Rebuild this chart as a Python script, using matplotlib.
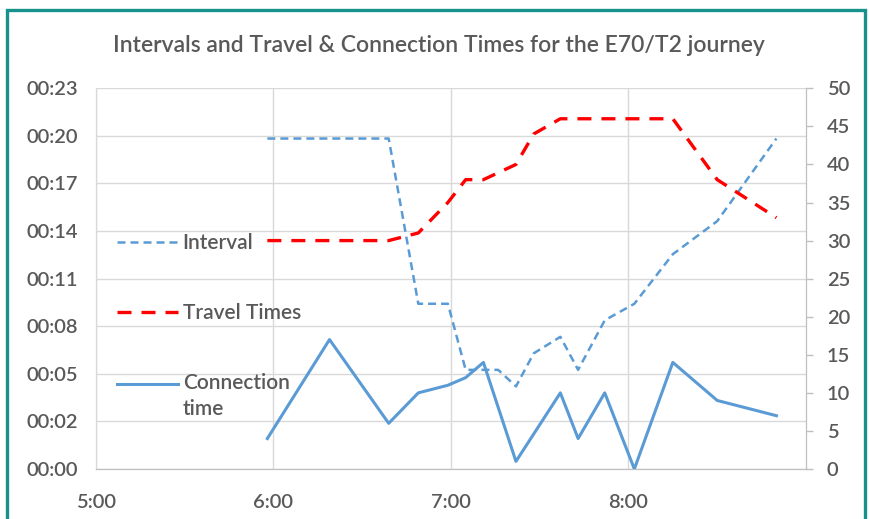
import matplotlib.pyplot as plt
import numpy as np
from matplotlib.patches import Rectangle
from matplotlib.ticker import FuncFormatter
from matplotlib.transforms import Affine2D

plt.rcParams["font.family"] = ["Lato", "DejaVu Sans"]
plt.rcParams["font.weight"] = "semibold"

# departure times and minutes for each series
interval_times = ["5:58", "6:19", "6:39", "6:49", "6:59", "7:05", "7:11", "7:16", "7:22",
                  "7:28", "7:37", "7:43", "7:52", "8:02", "8:15", "8:30", "8:50"]
interval_mins = [20, 20, 20, 10, 10, 6, 6, 6, 5, 7, 8, 6, 9, 10, 13, 15, 20]

travel_times = ["5:58", "6:19", "6:39", "6:49", "6:59", "7:05", "7:11", "7:22", "7:28",
                "7:37", "8:02", "8:15", "8:30", "8:50"]
travel_mins = [30, 30, 30, 31, 35, 38, 38, 40, 44, 46, 46, 46, 38, 33]

connection_times = ["5:58", "6:19", "6:39", "6:49", "6:59", "7:05", "7:11", "7:22", "7:37",
                    "7:43", "7:52", "8:02", "8:15", "8:30", "8:50"]
connection_mins = [4, 17, 6, 10, 11, 12, 14, 1, 10, 4, 10, 0, 14, 9, 7]

hour_labels = ["5:00", "6:00", "7:00", "8:00"]

BLUE = "#5b9bd5"
RED = "#ff0000"
TEXT = "#595959"
GRID = "#d9d9d9"


def to_hours(times):
    out = []
    for t in times:
        h, m = t.split(":")
        out.append(int(h) + int(m) / 60)
    return out


fig = plt.figure(figsize=(8.69, 5.19), dpi=100)
ax = fig.add_axes([95.7 / 869, 50 / 519, 710.3 / 869, 380.7 / 519])
ax2 = ax.twinx()

# interval on the time-of-day axis (left), the others in minutes (right)
l_int, = ax.plot(to_hours(interval_times), interval_mins, color=BLUE, lw=1.8,
                 dashes=(3.2, 2.0), label="Interval", zorder=3)
l_trv, = ax2.plot(to_hours(travel_times), travel_mins, color=RED, lw=2.4,
                  dashes=(4.2, 3.0), label="Travel Times", zorder=3)
l_con, = ax2.plot(to_hours(connection_times), connection_mins, color=BLUE, lw=2.2,
                  label="Connection\ntime", zorder=3)

ax.set_xlim(5, 9)
ax.set_xticks([5, 6, 7, 8])
ax.set_xticklabels(hour_labels)

# left axis ticks every 0.002 day (2.88 min), shown as hh:mm
step = 2.88
ax.set_ylim(0, 8 * step)
ax.set_yticks(np.arange(9) * step)
ax.yaxis.set_major_formatter(FuncFormatter(lambda v, p: f"00:{int(v + 1e-6):02d}"))

ax2.set_ylim(0, 50)
ax2.set_yticks(range(0, 51, 5))

ax.grid(True, color=GRID, lw=1, zorder=0)
ax.set_axisbelow(True)

for a in (ax, ax2):
    a.spines["top"].set_visible(False)
    a.spines["left"].set_color(GRID)
    a.spines["bottom"].set_color("#bfbfbf")
    a.spines["right"].set_color("#bfbfbf")

ax.tick_params(axis="y", length=0, pad=13, labelsize=14.5, labelcolor=TEXT)
ax.tick_params(axis="x", length=0, pad=18, labelsize=14.5, labelcolor=TEXT)
ax2.tick_params(axis="y", length=5, width=1, color="#bfbfbf", pad=10,
                labelsize=14.5, labelcolor=TEXT)

fig.text(439 / 869, 1 - 46 / 519,
         "Intervals and Travel & Connection Times for the E70/T2 journey",
         ha="center", va="center", fontsize=16.5, color=TEXT)

leg = ax.legend(
    [l_int, l_trv, l_con],
    [l_int.get_label(), l_trv.get_label(), l_con.get_label()],
    loc="upper left",
    bbox_to_anchor=(117 / 869, 1 - 233 / 519),
    bbox_transform=fig.transFigure,
    frameon=False,
    borderpad=0,
    borderaxespad=0,
    fontsize=15,
    handlelength=2.95,
    handletextpad=0.2,
    labelspacing=2.4,
    labelcolor=TEXT,
)
leg.get_texts()[2].set_linespacing(1.4)
# put the connection handle level with the first line of its label
con_handle = leg.legend_handles[2]
con_handle.set_transform(con_handle.get_transform() + Affine2D().translate(0, 13))
leg.set_zorder(5)

# teal frame around the chart
fig.add_artist(Rectangle((7 / 869, -0.05), 858 / 869, 1.05 - 10 / 519,
                         transform=fig.transFigure, fill=False,
                         edgecolor="#16918b", lw=2.4))

fig.savefig("out.png", dpi=100)
